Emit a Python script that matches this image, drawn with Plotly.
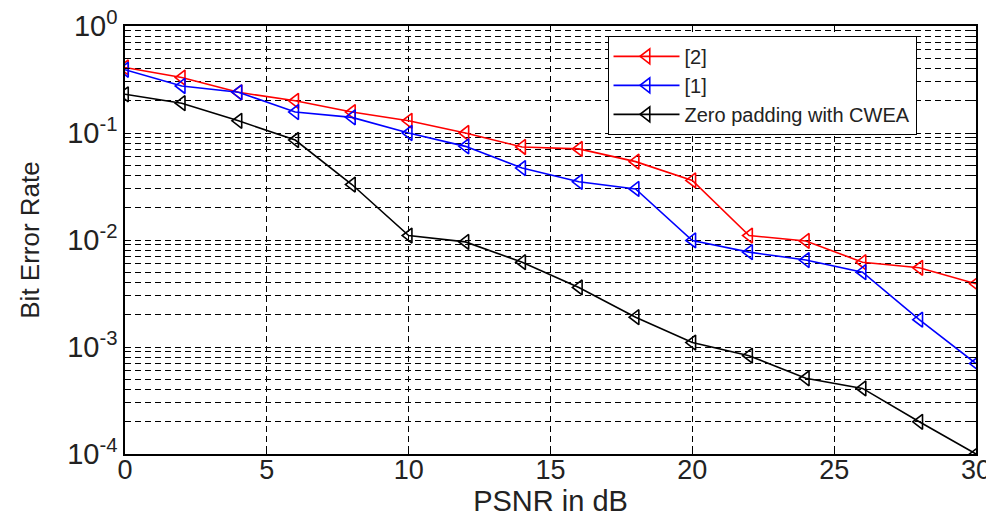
import plotly.graph_objects as go

psnr = [0, 2, 4, 6, 8, 10, 12, 14, 16, 18, 20, 22, 24, 26, 28, 30]
ber_ref2 = [0.41, 0.33, 0.24, 0.20, 0.157, 0.13, 0.10, 0.074, 0.071, 0.054, 0.036,
            0.011, 0.0098, 0.0062, 0.0055, 0.0039]
ber_ref1 = [0.39, 0.275, 0.24, 0.157, 0.14, 0.10, 0.075, 0.047, 0.035, 0.030, 0.0099,
            0.0077, 0.0065, 0.0050, 0.0018, 0.00070]
ber_cwea = [0.23, 0.19, 0.13, 0.086, 0.033, 0.011, 0.0096, 0.0062, 0.0036, 0.0019,
            0.0011, 0.00083, 0.00051, 0.00041, 0.00020, 0.0001]

series_names = ["[2]", "[1]", "Zero padding with CWEA"]
series_colors = ["#ff0000", "#0000ff", "#000000"]

x_ticks = [0, 5, 10, 15, 20, 25, 30]
decades = [-4, -3, -2, -1, 0]

y_tickvals = []
y_ticktext = []
for d in decades:
    for m in range(1, 10):
        if d == 0 and m > 1:
            break
        y_tickvals.append(m * 10 ** d)
        y_ticktext.append(f"10<sup>{d}</sup>" if m == 1 else "")

fig = go.Figure()
for name, ys, col in zip(series_names, [ber_ref2, ber_ref1, ber_cwea], series_colors):
    fig.add_trace(go.Scatter(
        x=psnr, y=ys, name=name, mode="lines+markers",
        line=dict(color=col, width=1.6),
        marker=dict(symbol="triangle-left-open", size=13, color=col,
                    line=dict(width=1.6, color=col)),
    ))

font_family = "Liberation Sans, Arial, sans-serif"
fig.update_layout(
    width=986, height=511,
    margin=dict(l=117, r=18, t=18, b=65),
    paper_bgcolor="white", plot_bgcolor="white",
    font=dict(family=font_family, color="#222222", size=26),
    showlegend=True,
    legend=dict(x=0.567, y=0.977, xanchor="left", yanchor="top",
                bordercolor="black", borderwidth=1, bgcolor="white",
                font=dict(size=20, color="#222222"),
                tracegroupgap=0, itemwidth=66),
)
fig.update_xaxes(
    range=[0, 30], tickvals=x_ticks, ticktext=[str(v) for v in x_ticks],
    showgrid=True, gridcolor="black", gridwidth=1.2, griddash="6px,4px",
    showline=True, linecolor="black", linewidth=1.5, mirror="allticks",
    ticks="inside", ticklen=5, tickcolor="black", ticklabeloverflow="allow",
    tickfont=dict(size=27), zeroline=False, automargin=False,
    ticklabelstandoff=-9,
    title=dict(text="PSNR in dB", font=dict(size=29), standoff=0),
)
fig.update_yaxes(
    type="log", range=[-4, 0], tickvals=y_tickvals, ticktext=y_ticktext,
    showgrid=True, gridcolor="black", gridwidth=1.2, griddash="6px,4px",
    showline=True, linecolor="black", linewidth=1.5, mirror="allticks",
    ticks="inside", ticklen=5, tickcolor="black", ticklabeloverflow="allow",
    tickfont=dict(size=29), zeroline=False, automargin=False,
    title=dict(text="Bit Error Rate", font=dict(size=26), standoff=20),
)

fig.write_html("out.html")
